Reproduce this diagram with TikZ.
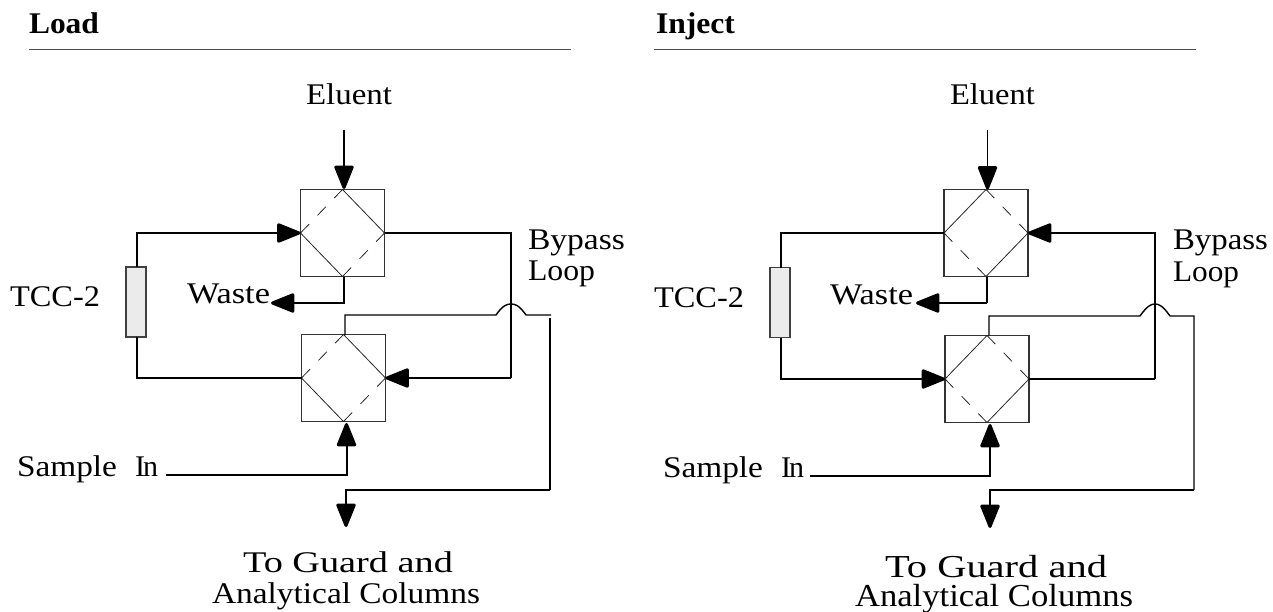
\documentclass[tikz,border=0pt]{standalone}
\usepackage{fontspec}
\usepackage{graphicx}
\setmainfont{Liberation Serif}
\usetikzlibrary{arrows.meta,positioning,calc}
\newcommand{\fitw}[2]{\resizebox{#1pt}{\height}{#2}}
\tikzset{
  x=1pt,y=-1pt,
  valve/.style={draw=black!80,line width=1.3pt,minimum width=84pt,minimum height=87pt,inner sep=0pt,outer sep=0pt},
  flow/.style={line width=2pt,black,line join=miter},
  thinflow/.style={line width=1.4pt,black,line join=miter},
  head/.style={-{Triangle[length=26pt,width=20pt,line width=3pt,round]}},
  solidedge/.style={line width=0.8pt,draw=black!85},
  dashedge/.style={line width=0.8pt,draw=black!85,dash pattern=on 12pt off 12pt},
  column/.style={draw=black!75,line width=1.1pt,fill=black!8,minimum width=20pt,minimum height=70pt,inner sep=0pt,outer sep=0pt},
  rule/.style={line width=1pt,black!70},
  lbl/.style={inner sep=0pt,outer sep=0pt,anchor=base west,font=\fontsize{30}{31}\selectfont},
  biglbl/.style={inner sep=0pt,outer sep=0pt,anchor=base west,font=\fontsize{32}{33}\selectfont},
  title/.style={inner sep=0pt,outer sep=0pt,anchor=base west,font=\fontsize{30}{31}\selectfont\bfseries},
}
\begin{document}
\begin{tikzpicture}
\useasboundingbox (0,0) rectangle (1273,612);
% ---------- LOAD ----------
\node[title] (tL) at (29,34) {\fitw{70}{Load}};
\coordinate (rLa) at (29,49.5); \coordinate (rLb) at (571,49.5);
\draw[rule] (rLa) -- (rLb);
\node[lbl] (eL) at (306,105) {\fitw{86}{Eluent}};
\node[valve] (uL) at (342.5,233) {};
\node[valve] (dL) at (343.5,378) {};
\node[column] (cL) at (136,302) {};
\node[lbl] (tccL) at (10,306) {\fitw{90}{TCC-2}};
\node[lbl] (wL) at (187,303) {\fitw{83}{Waste}};
\node[lbl] (bL) at (528,249) {\fitw{97}{Bypass}};
\node[lbl] (lpL) at (528,280) {\fitw{67}{Loop}};
\node[lbl] (sL) at (17,476) {\fitw{100}{Sample}\hspace{18pt}I\kern-2pt n};
\node[lbl] (gL) at (243,572) {\fitw{210}{To Guard and}};
\node[lbl] (gLb) at (212,603) {\fitw{268}{Analytical Columns}};
\coordinate (eLs) at (344,130);
\coordinate (uLt) at (344,189);
\draw[flow,head] (eLs) -- (uLt);
\draw[solidedge] (uL.north) -- (uL.east);
\draw[solidedge] (uL.west) -- (uL.south);
\draw[dashedge] (uL.north) -- (uL.west);
\draw[dashedge] (uL.east) -- (uL.south);
\draw[solidedge] (dL.north) -- (dL.east);
\draw[solidedge] (dL.west) -- (dL.south);
\draw[dashedge] (dL.north) -- (dL.west);
\draw[dashedge] (dL.east) -- (dL.south);
\coordinate (lLc) at (137,233);
\coordinate (lLd) at (137,378);
\draw[flow,head] (cL.north -| lLc) -- (lLc) -- (uL.west);
\draw[flow] (cL.south -| lLd) -- (lLd) -- (dL.west);
\coordinate (bLa) at (511,233); \coordinate (bLb) at (511,378);
\draw[flow] (uL.east) -- (bLa) -- (bLb);
\draw[thinflow,head] (bLb) -- (dL.east);
\coordinate (wLs) at (344,276.5); \coordinate (wLe) at (271,303);
\draw[flow,head] (wLs) -- (344,303) -- (wLe);
\coordinate (sLa) at (166,475); \coordinate (sLb) at (346.5,423);
\draw[flow,head] (sLa) -- (346.5,475) -- (sLb);
\coordinate (oLa) at (345,335); \coordinate (oLb) at (496,315); \coordinate (oLc) at (526,315); \coordinate (oLd) at (551,315);
\draw[thinflow] (oLa) -- (345,315) -- (oLb) .. controls (503,305) and (507,304) .. (511,304) .. controls (515,304) and (519,305) .. (oLc) -- (oLd);
\coordinate (oLe) at (550,318); \coordinate (oLf) at (550,490); \coordinate (oLg) at (346,527);
\draw[flow] (oLe) -- (oLf);
\draw[flow,head] (oLf) -- (346,490) -- (oLg);
% ---------- INJECT ----------
\node[title] (tI) at (656,34) {\fitw{79}{Inject}};
\coordinate (rIa) at (654,50); \coordinate (rIb) at (1196,50);
\draw[rule] (rIa) -- (rIb);
\node[lbl] (eI) at (950,105) {\fitw{85}{Eluent}};
\node[valve] (uI) at (986,233) {};
\node[valve] (dI) at (987,379) {};
\node[column] (cI) at (780,302.5) {};
\node[lbl] (tccI) at (654,307) {\fitw{90}{TCC-2}};
\node[lbl] (wI) at (830,304) {\fitw{83}{Waste}};
\node[lbl] (bI) at (1173,249) {\fitw{95}{Bypass}};
\node[lbl] (lpI) at (1173,281) {\fitw{66}{Loop}};
\node[lbl] (sI) at (663,477) {\fitw{100}{Sample}\hspace{18pt}I\kern-2pt n};
\node[biglbl] (gI) at (885,577) {\fitw{222}{To Guard and}};
\node[biglbl] (gIb) at (855,606) {\fitw{278}{Analytical Columns}};
\coordinate (eIs) at (987.5,130);
\coordinate (uIt) at (987.5,189.5);
\draw[thinflow,head] (eIs) -- (uIt);
\draw[solidedge] (uI.north) -- (uI.west);
\draw[solidedge] (uI.east) -- (uI.south);
\draw[dashedge] (uI.north) -- (uI.east);
\draw[dashedge] (uI.west) -- (uI.south);
\draw[solidedge] (dI.north) -- (dI.west);
\draw[solidedge] (dI.east) -- (dI.south);
\draw[dashedge] (dI.north) -- (dI.east);
\draw[dashedge] (dI.west) -- (dI.south);
\coordinate (lIc) at (781,233);
\coordinate (lId) at (781,379);
\draw[flow] (cI.north -| lIc) -- (lIc) -- (uI.west);
\draw[flow,head] (cI.south -| lId) -- (lId) -- (dI.west);
\coordinate (bIa) at (1155,233); \coordinate (bIb) at (1155,379);
\draw[thinflow,head] (bIb) -- (bIa) -- (uI.east);
\draw[thinflow] (dI.east) -- (bIb);
\coordinate (wIs) at (987,277); \coordinate (wIc) at (987,303); \coordinate (wIe) at (916,303);
\draw[thinflow] (wIs) -- (wIc);
\draw[flow,head] (wIc) -- (wIe);
\coordinate (sIa) at (810,476); \coordinate (sIb) at (990,424);
\draw[flow,head] (sIa) -- (990,476) -- (sIb);
\coordinate (oIa) at (989,335.5); \coordinate (oIb) at (1140,316); \coordinate (oIc) at (1170,316); \coordinate (oId) at (1194,316);
\coordinate (oIf) at (1194,490); \coordinate (oIg) at (990,528);
\draw[thinflow] (oIa) -- (989,316) -- (oIb) .. controls (1147,306) and (1151,304) .. (1155,304) .. controls (1159,304) and (1163,306) .. (oIc) -- (oId) -- (oIf);
\draw[flow,head] (oIf) -- (990,490) -- (oIg);
\end{tikzpicture}
\end{document}
